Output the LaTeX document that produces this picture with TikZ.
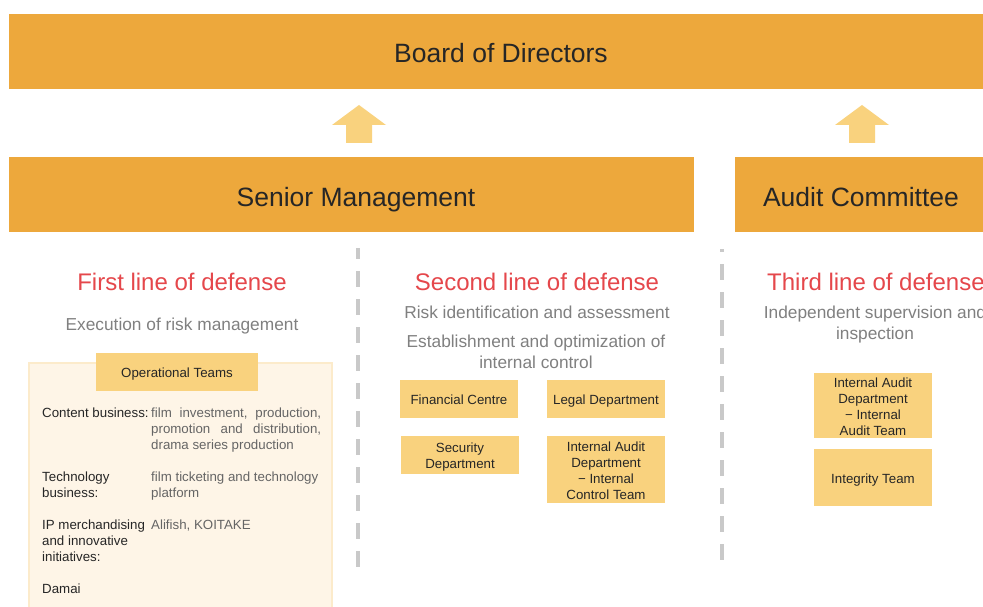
\documentclass[tikz,border=0pt]{standalone}
\usepackage{fontspec}
\setmainfont{Liberation Sans}

\definecolor{barorange}{HTML}{EDA83C}
\definecolor{unitfill}{HTML}{F9D27E}
\definecolor{panelfill}{HTML}{FEF5E7}
\definecolor{panelline}{HTML}{FCEBCB}
\definecolor{headred}{HTML}{E5474B}
\definecolor{subgrey}{HTML}{808080}
\definecolor{inkdark}{HTML}{262626}
\definecolor{dashgrey}{HTML}{C9C9C9}

\newcommand\fsz[2]{\fontsize{#1}{#2}\selectfont}
% invisible rules that centre a block of lines on its capitals:
% one gives the first line 14pt of height, the other the last line 3pt of depth
\newcommand\topstrut{\rule{0pt}{14pt}}
\newcommand\botstrut{\rule[-3pt]{0pt}{3pt}}

\tikzset{
  barbox/.style={fill=barorange, draw=none, inner sep=0, minimum height=75},
  bartext/.style={text=inkdark, font=\fsz{26.5}{30}, inner sep=0, anchor=base},
  unit/.style={fill=unitfill, draw=none, text=inkdark, font=\fsz{13.3}{16},
    align=center, inner sep=0, minimum width=118},
  linehead/.style={text=headred, font=\fsz{24}{28}, inner sep=0},
  linesub/.style={text=subgrey, font=\fsz{17.3}{21}, align=center, inner sep=0},
  body/.style={text=inkdark, font=\fsz{13.3}{16}, anchor=north west, inner sep=0, align=left},
  bodyaside/.style={body, text=subgrey!70!inkdark},
  divider/.style={draw=dashgrey, line width=4, dash pattern=on 16 off 12},
  uparrow/.style={fill=unitfill, draw=none},
}

\begin{document}
\begin{tikzpicture}[x=1pt, y=-1pt]
\clip (0,0) rectangle (983,607);
\fill[white] (0,0) rectangle (983,607);

% top-level bodies
\node[barbox, minimum width=984] (board) at (501,51.5) {};
\node[bartext] (boardtxt) at (501,62.7) {Board of Directors};
\node[barbox, minimum width=685] (senior) at (351.5,194.5) {};
\node[bartext] (seniortxt) at (356,206) {Senior Management};
\node[barbox, minimum width=252] (audit) at (861,194.5) {};
\node[bartext] (audittxt) at (861,206) {Audit Committee};

% reporting arrows
\fill[uparrow] (359,105) -- (386,125) -- (372,125) -- (372,143) -- (346,143) -- (346,125) -- (332,125) -- cycle;
\fill[uparrow] (862,105) -- (889,125) -- (875,125) -- (875,143) -- (849,143) -- (849,125) -- (835,125) -- cycle;

% column dividers
\draw[divider, dash phase=5] (358,248) -- (358,567);
\draw[divider, dash phase=13] (722,249) -- (722,560);

% first line of defense
\node[linehead] (firsthead) at (182,282) {First line of defense};
\node[linesub] (firstsub) at (182,326) {Execution of risk management};
\filldraw[fill=panelfill, draw=panelline, line width=2] (29,363) rectangle (332,615);
\node[unit, minimum width=162, minimum height=38] (opteams) at (177,372) {\topstrut Operational Teams\botstrut};

\node[body] (contentlbl) at (42,408) {Content business:};
\node[bodyaside] (contenttxt) at (151,408) {%
  \hbox to 170pt{film\hfill investment,\hfill production,}\\
  \hbox to 170pt{promotion\hfill and\hfill distribution,}\\
  drama series production};
\node[body] (techlbl) at (42,472) {Technology\\business:};
\node[bodyaside] (techtxt) at (151,472) {film ticketing and technology\\platform};
\node[body] (iplbl) at (42,520) {IP merchandising\\and innovative\\initiatives:};
\node[bodyaside] (iptxt) at (151,520) {Alifish, KOITAKE};
\node[body] (damai) at (42,584) {Damai};

% second line of defense
\node[linehead] (secondhead) at (537,282) {Second line of defense};
\node[linesub] (secondsub) at (537,312) {Risk identification and assessment};
\node[linesub] (secondsubb) at (536,351.5) {Establishment and optimization of\\internal control};
\node[unit, minimum height=38] (finance) at (459,399) {\topstrut Financial Centre\botstrut};
\node[unit, minimum height=38] (legal) at (606,399) {\topstrut Legal Department\botstrut};
\node[unit, minimum height=38] (security) at (460,455) {\topstrut Security\\Department\botstrut};
\node[unit, minimum height=67] (iacontrol) at (606,469.5) {\topstrut Internal Audit\\Department\\− Internal\\Control Team\botstrut};

% third line of defense
\node[linehead, anchor=west] (thirdhead) at (767,282) {Third line of defense};
\node[linesub] (thirdsub) at (875,324.5) {Independent supervision and\\inspection};
\node[unit, minimum height=63] (iaaudit) at (873,405.5) {\topstrut Internal Audit\\Department\\− Internal\\Audit Team\botstrut};
\node[unit, minimum height=57] (integrity) at (873,477.5) {\topstrut Integrity Team\botstrut};
\end{tikzpicture}
\end{document}
